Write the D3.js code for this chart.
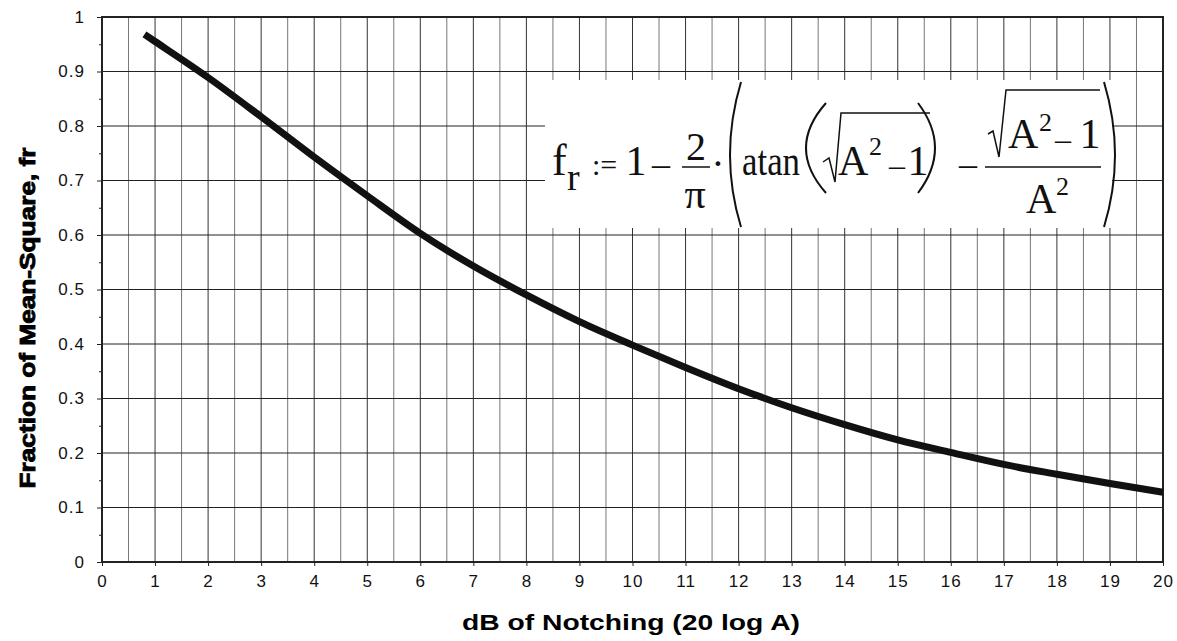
<!DOCTYPE html>
<html>
<head>
<meta charset="utf-8">
<script src="https://cdn.jsdelivr.net/npm/d3@7"></script>
<style>
  body { margin: 0; background: #fff; }
  svg { display: block; }
</style>
</head>
<body>
<svg id="chart" width="1177" height="641"></svg>
<script>
// values
const dB = [0.8, 1, 2, 3, 4, 5, 6, 7, 8, 9, 10, 11, 12, 13, 14, 15, 16, 17, 18, 19, 20]
const fr = [0.968, 0.955, 0.889, 0.817, 0.743, 0.672, 0.603, 0.543, 0.490, 0.441, 0.398,
            0.357, 0.318, 0.283, 0.252, 0.224, 0.201, 0.179, 0.161, 0.144, 0.128]
const xTicks = d3.range(0, 21, 1)
const yTicks = d3.range(0, 11).map(i => i / 10)

const svg = d3.select("#chart")
const margin = {top: 17, right: 14, bottom: 79, left: 102}
const width = 1177 - margin.left - margin.right
const height = 641 - margin.top - margin.bottom

const x = d3.scaleLinear().domain([0, 20]).range([margin.left, margin.left + width])
const y = d3.scaleLinear().domain([0, 1]).range([margin.top + height, margin.top])

// grid
const grid = svg.append("g")
grid.selectAll(".vgrid")
    .data(d3.range(0.5, 20, 0.5))
    .enter().append("line")
    .attr("class", "vgrid")
    .attr("x1", d => x(d)).attr("x2", d => x(d))
    .attr("y1", y(1)).attr("y2", y(0))
    .attr("stroke", (d, i) => i % 2 ? "#333" : "#777")
    .attr("stroke-width", 1)
grid.selectAll(".hgrid")
    .data(yTicks.slice(1, -1))
    .enter().append("line")
    .attr("class", "hgrid")
    .attr("x1", x(0)).attr("x2", x(20))
    .attr("y1", d => y(d)).attr("y2", d => y(d))
    .attr("stroke", "#222")
    .attr("stroke-width", 1)

// white box behind the formula
svg.append("rect")
    .attr("x", 545).attr("y", 80)
    .attr("width", 567).attr("height", 148)
    .attr("fill", "#fff")

// frame
svg.append("rect")
    .attr("x", x(0)).attr("y", y(1))
    .attr("width", x(20) - x(0)).attr("height", y(0) - y(1))
    .attr("fill", "none")
    .attr("stroke", "#222")
    .attr("stroke-width", 2)

// axes
const axisX = d3.axisBottom(x).tickValues(xTicks).tickSize(4).tickPadding(9)
const axisY = d3.axisLeft(y).tickValues(yTicks).tickSize(5).tickPadding(12)
    .tickFormat(d => String(+d.toFixed(1)))

svg.append("g")
    .attr("class", "axis")
    .attr("transform", "translate(0," + y(0) + ")")
    .call(axisX)
svg.append("g")
    .attr("class", "axis")
    .attr("transform", "translate(" + x(0) + ",0)")
    .call(axisY)

svg.append("g")
    .attr("transform", "translate(" + x(0) + ",0)")
    .call(d3.axisLeft(y).tickValues(d3.range(0.05, 1, 0.1)).tickSize(3).tickFormat(""))

svg.selectAll(".domain").remove()
svg.selectAll(".tick line").attr("stroke", "#222")
svg.selectAll(".axis")
    .attr("font-family", "Liberation Sans, Arial, sans-serif")
    .attr("font-size", 17)
svg.selectAll(".axis .tick text")
    .style("font-size", "17px")
    .style("letter-spacing", "1px")
    .attr("fill", "#111")

// titles
svg.append("text")
    .attr("x", 631).attr("y", 630)
    .attr("text-anchor", "middle")
    .attr("font-family", "Liberation Sans, Arial, sans-serif")
    .attr("font-weight", "bold")
    .attr("font-size", 22)
    .attr("textLength", 338)
    .attr("lengthAdjust", "spacingAndGlyphs")
    .text("dB of Notching (20 log A)")

svg.append("text")
    .attr("transform", "translate(35,318) rotate(-90)")
    .attr("text-anchor", "middle")
    .attr("font-family", "Liberation Sans, Arial, sans-serif")
    .attr("font-weight", "bold")
    .attr("font-size", 22)
    .attr("stroke", "#000")
    .attr("stroke-width", 0.9)
    .attr("textLength", 341)
    .attr("lengthAdjust", "spacingAndGlyphs")
    .text("Fraction of Mean-Square, fr")

// curve
const line = d3.line()
    .x((d, i) => x(dB[i]))
    .y(d => y(d))
    .curve(d3.curveMonotoneX)

svg.append("path")
    .datum(fr)
    .attr("d", line)
    .attr("fill", "none")
    .attr("stroke", "#111")
    .attr("stroke-width", 7)

// formula
const f = svg.append("g")
    .attr("font-family", "Liberation Serif, Times New Roman, serif")
    .attr("fill", "#111")

function t (s, px, py, size, anchor) {
    return f.append("text")
        .attr("x", px).attr("y", py)
        .style("font-size", size + "px")
        .attr("text-anchor", anchor || "start")
        .text(s)
}
function p (d, w) {
    f.append("path").attr("d", d).attr("fill", "none")
        .attr("stroke", "#111").attr("stroke-width", w || 2)
}

t("f", 552, 175, 44)
t("r", 567, 190, 38)
t(":=", 592, 175, 30)
t("1", 636, 175, 42, "middle")
t("\u2013", 661, 176, 36, "middle")
t("2", 696, 160, 40, "middle")
p("M682,167 L710,167", 1.5)
t("\u03c0", 695, 208, 42, "middle")
t("\u00b7", 718, 177, 40, "middle")
p("M741,82 Q719,155 741,227")
t("atan", 742, 175, 42).attr("textLength", 58).attr("lengthAdjust", "spacingAndGlyphs")
p("M826,103 Q786,148 826,193")
p("M823,162 L829,158 L835,182 L841,113 L930,113", 1.5)
t("A", 838, 175, 42)
t("2", 869, 155, 26)
t("\u2013", 897, 176, 32, "middle")
t("1", 918, 175, 42, "middle")
p("M918,103 Q952,148 918,193")
t("\u2013", 968, 176, 36, "middle")
p("M988,134 L993,131 L999,157 L1006,90 L1100,90", 1.5)
t("A", 1008, 148, 42)
t("2", 1039, 131, 26)
t("\u2013", 1063, 150, 32, "middle")
t("1", 1090, 148, 42, "middle")
p("M985,167 L1101,167", 1.5)
t("A", 1026, 213, 42)
t("2", 1056, 195, 26)
p("M1104,82 Q1126,155 1104,227")
</script>
</body>
</html>
